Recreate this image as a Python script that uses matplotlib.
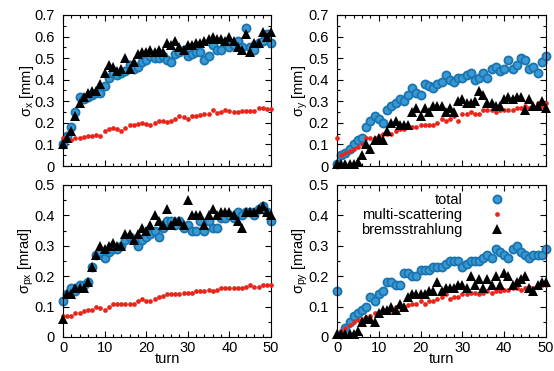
import numpy as np
import matplotlib
matplotlib.use('Agg')
import matplotlib.pyplot as plt
from matplotlib.ticker import MultipleLocator, FuncFormatter

plt.rcParams['font.family'] = ['Liberation Sans', 'DejaVu Sans']
plt.rcParams['mathtext.default'] = 'regular'
plt.rcParams['font.size'] = 10.5

turn = np.arange(51)

# sigma_x [mm]
sx_total = [0.10, 0.14, 0.18, 0.25, 0.32, 0.31, 0.32, 0.33, 0.34, 0.34,
            0.37, 0.41, 0.43, 0.42, 0.43, 0.44, 0.47, 0.45, 0.46, 0.48,
            0.49, 0.51, 0.50, 0.50, 0.51, 0.49, 0.48, 0.52, 0.53, 0.54,
            0.51, 0.52, 0.53, 0.53, 0.49, 0.51, 0.56, 0.54, 0.54, 0.57,
            0.55, 0.56, 0.58, 0.55, 0.64, 0.55, 0.54, 0.57, 0.58, 0.61,
            0.57]
sx_multi = [0.13, 0.12, 0.12, 0.13, 0.13, 0.135, 0.14, 0.14, 0.145, 0.14,
            0.16, 0.17, 0.175, 0.17, 0.16, 0.175, 0.19, 0.19, 0.195, 0.20,
            0.195, 0.19, 0.20, 0.21, 0.21, 0.205, 0.21, 0.22, 0.23, 0.225,
            0.22, 0.23, 0.23, 0.235, 0.24, 0.24, 0.26, 0.245, 0.25, 0.26,
            0.255, 0.25, 0.25, 0.255, 0.255, 0.255, 0.255, 0.27, 0.27, 0.265,
            0.265]
sx_brems = [0.10, 0.13, 0.16, 0.23, 0.29, 0.32, 0.34, 0.35, 0.35, 0.38,
            0.43, 0.47, 0.46, 0.44, 0.45, 0.50, 0.45, 0.48, 0.52, 0.53,
            0.53, 0.54, 0.53, 0.54, 0.53, 0.57, 0.56, 0.58, 0.55, 0.54,
            0.56, 0.56, 0.57, 0.57, 0.58, 0.59, 0.60, 0.59, 0.59, 0.58,
            0.60, 0.58, 0.55, 0.54, 0.61, 0.53, 0.57, 0.57, 0.62, 0.60,
            0.62]

# sigma_y [mm]
sy_total = [0.01, 0.05, 0.06, 0.08, 0.10, 0.12, 0.13, 0.18, 0.21, 0.23,
            0.22, 0.20, 0.26, 0.28, 0.29, 0.31, 0.30, 0.33, 0.36, 0.34,
            0.33, 0.38, 0.37, 0.36, 0.38, 0.39, 0.42, 0.40, 0.39, 0.41,
            0.41, 0.42, 0.43, 0.40, 0.41, 0.43, 0.41, 0.45, 0.46, 0.44,
            0.45, 0.49, 0.45, 0.47, 0.50, 0.49, 0.45, 0.46, 0.43, 0.48,
            0.51]
sy_multi = [0.13, 0.05, 0.06, 0.07, 0.08, 0.09, 0.10, 0.13, 0.13, 0.13,
            0.14, 0.15, 0.15, 0.15, 0.16, 0.17, 0.17, 0.18, 0.18, 0.18,
            0.19, 0.19, 0.19, 0.19, 0.20, 0.22, 0.21, 0.22, 0.23, 0.21,
            0.24, 0.24, 0.25, 0.24, 0.24, 0.26, 0.26, 0.26, 0.25, 0.26,
            0.26, 0.26, 0.26, 0.27, 0.27, 0.28, 0.27, 0.28, 0.29, 0.28,
            0.29]
sy_brems = [0.01, 0.01, 0.01, 0.01, 0.01, 0.02, 0.05, 0.10, 0.08, 0.12,
            0.13, 0.12, 0.16, 0.20, 0.21, 0.19, 0.19, 0.19, 0.25, 0.27,
            0.23, 0.27, 0.25, 0.28, 0.28, 0.28, 0.25, 0.27, 0.25, 0.30,
            0.31, 0.29, 0.29, 0.30, 0.35, 0.33, 0.29, 0.29, 0.28, 0.28,
            0.31, 0.32, 0.31, 0.32, 0.32, 0.26, 0.31, 0.28, 0.28, 0.30,
            0.27]

# sigma_px [mrad]
spx_total = [0.12, 0.14, 0.16, 0.15, 0.17, 0.17, 0.18, 0.23, 0.27, 0.28,
             0.26, 0.28, 0.29, 0.29, 0.30, 0.32, 0.33, 0.32, 0.30, 0.32,
             0.33, 0.34, 0.35, 0.33, 0.36, 0.38, 0.38, 0.37, 0.38, 0.36,
             0.37, 0.35, 0.35, 0.38, 0.35, 0.38, 0.36, 0.36, 0.39, 0.39,
             0.40, 0.39, 0.41, 0.40, 0.41, 0.41, 0.40, 0.42, 0.43, 0.41,
             0.38]
spx_multi = [0.07, 0.07, 0.07, 0.08, 0.08, 0.085, 0.09, 0.09, 0.10, 0.095,
             0.09, 0.10, 0.11, 0.11, 0.11, 0.11, 0.11, 0.11, 0.12, 0.125,
             0.12, 0.12, 0.125, 0.13, 0.135, 0.14, 0.14, 0.14, 0.14, 0.145,
             0.145, 0.145, 0.15, 0.15, 0.15, 0.155, 0.15, 0.155, 0.16, 0.16,
             0.16, 0.16, 0.16, 0.16, 0.165, 0.17, 0.165, 0.165, 0.17, 0.17,
             0.17]
spx_brems = [0.06, 0.14, 0.14, 0.16, 0.16, 0.16, 0.18, 0.23, 0.27, 0.30,
             0.29, 0.30, 0.31, 0.30, 0.30, 0.34, 0.34, 0.32, 0.34, 0.36,
             0.35, 0.37, 0.40, 0.38, 0.37, 0.42, 0.37, 0.38, 0.38, 0.37,
             0.45, 0.40, 0.40, 0.40, 0.37, 0.40, 0.42, 0.40, 0.41, 0.41,
             0.41, 0.40, 0.38, 0.36, 0.41, 0.41, 0.41, 0.42, 0.43, 0.41,
             0.40]

# sigma_py [mrad]
spy_total = [0.15, 0.01, 0.03, 0.05, 0.07, 0.08, 0.09, 0.10, 0.13, 0.12,
             0.14, 0.15, 0.18, 0.18, 0.17, 0.17, 0.21, 0.21, 0.20, 0.20,
             0.22, 0.22, 0.22, 0.23, 0.23, 0.23, 0.24, 0.25, 0.25, 0.25,
             0.23, 0.24, 0.25, 0.25, 0.25, 0.26, 0.27, 0.26, 0.29, 0.28,
             0.27, 0.26, 0.29, 0.30, 0.28, 0.27, 0.26, 0.27, 0.27, 0.27,
             0.29]
spy_multi = [0.01, 0.02, 0.03, 0.04, 0.05, 0.055, 0.06, 0.065, 0.07, 0.08,
             0.08, 0.085, 0.09, 0.09, 0.10, 0.10, 0.10, 0.105, 0.11, 0.11,
             0.12, 0.11, 0.12, 0.12, 0.125, 0.13, 0.14, 0.125, 0.13, 0.13,
             0.14, 0.14, 0.145, 0.145, 0.14, 0.145, 0.15, 0.145, 0.15, 0.15,
             0.155, 0.155, 0.16, 0.16, 0.155, 0.16, 0.165, 0.16, 0.165, 0.17,
             0.17]
spy_brems = [0.01, 0.01, 0.01, 0.01, 0.01, 0.02, 0.05, 0.06, 0.06, 0.05,
             0.08, 0.09, 0.09, 0.10, 0.09, 0.11, 0.10, 0.13, 0.14, 0.14,
             0.14, 0.14, 0.15, 0.15, 0.18, 0.15, 0.16, 0.16, 0.16, 0.17,
             0.17, 0.16, 0.20, 0.17, 0.19, 0.16, 0.19, 0.17, 0.20, 0.17,
             0.21, 0.20, 0.17, 0.18, 0.19, 0.20, 0.16, 0.15, 0.17, 0.18,
             0.18]

panels = [
    (sx_total, sx_multi, sx_brems, r'$\sigma_x$ [mm]', 0.7),
    (sy_total, sy_multi, sy_brems, r'$\sigma_y$ [mm]', 0.7),
    (spx_total, spx_multi, spx_brems, r'$\sigma_{px}$ [mrad]', 0.5),
    (spy_total, spy_multi, spy_brems, r'$\sigma_{py}$ [mrad]', 0.5),
]

W, H = 554, 371
fig = plt.figure(figsize=(W / 100, H / 100), dpi=100)

# axes boxes in pixels: left, right, top, bottom
boxes = [(63, 271, 15, 166), (337, 546, 15, 166),
         (63, 271, 185, 337), (337, 546, 185, 337)]

fmt = FuncFormatter(lambda v, p: '%g' % round(v, 3))

for i, (tot, mul, brm, lab, ymax) in enumerate(panels):
    l, r, t, b = boxes[i]
    ax = fig.add_axes([l / W, 1 - b / H, (r - l) / W, (b - t) / H])
    ax.plot(turn, tot, 'o', ms=5.8, mfc='#3a98d2', mec='#1a74b0', mew=1.3,
            clip_on=False, label='total', zorder=2)
    ax.plot(turn, mul, 'o', ms=3.4, mfc='#e8251b', mec='#e8251b', mew=0,
            clip_on=False, label='multi-scattering', zorder=3)
    ax.plot(turn, brm, '^', ms=7, color='black', mew=0,
            clip_on=False, label='bremsstrahlung', zorder=4)
    ax.set_xlim(0, 50)
    ax.set_ylim(0, ymax)
    ax.xaxis.set_major_locator(MultipleLocator(10))
    ax.xaxis.set_minor_locator(MultipleLocator(2))
    ax.yaxis.set_major_locator(MultipleLocator(0.1))
    ax.yaxis.set_minor_locator(MultipleLocator(0.05))
    ax.yaxis.set_major_formatter(fmt)
    ax.tick_params(which='both', direction='in', top=True, right=True,
                   width=0.8, labelsize=10.5, pad=3)
    ax.tick_params(axis='y', pad=6)
    ax.tick_params(which='major', length=4.5)
    ax.tick_params(which='minor', length=2.5)
    for s in ax.spines.values():
        s.set_linewidth(0.8)
    ax.set_ylabel(lab, fontsize=10.5, labelpad=-1)
    if i < 2:
        ax.tick_params(labelbottom=False)
    else:
        ax.set_xlabel('turn', fontsize=10.5, labelpad=-2)
    if i == 3:
        ax.legend(loc='upper right', bbox_to_anchor=(0.80, 0.945),
                  markerfirst=False, frameon=False, handlelength=1.0,
                  handletextpad=1.85, labelspacing=0.05, borderpad=0,
                  borderaxespad=0, fontsize=10.5)

fig.savefig('out.png', dpi=100)
